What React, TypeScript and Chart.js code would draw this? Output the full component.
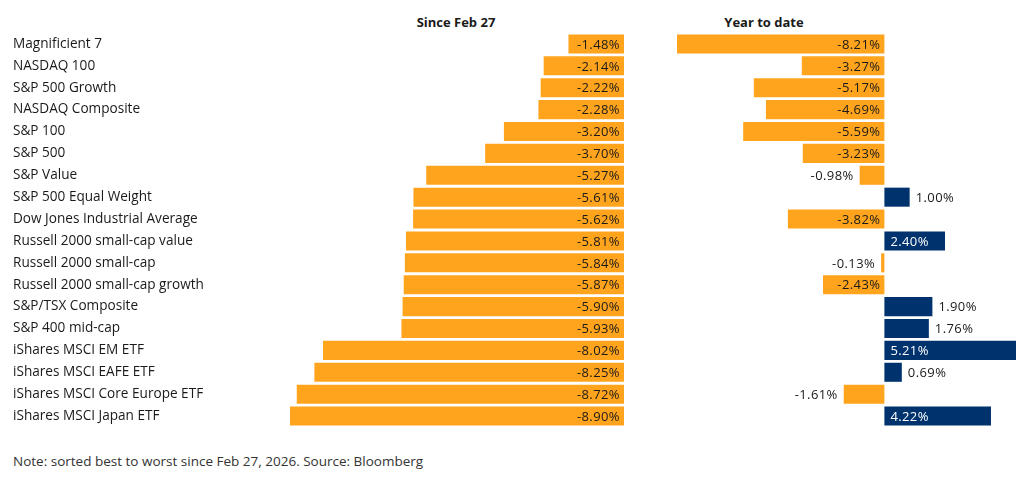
import React, { useEffect, useRef } from "react";
import { Chart, registerables } from "chart.js";

Chart.register(...registerables);

const categories = [
  "Magnificient 7",
  "NASDAQ 100",
  "S&P 500 Growth",
  "NASDAQ Composite",
  "S&P 100",
  "S&P 500",
  "S&P Value",
  "S&P 500 Equal Weight",
  "Dow Jones Industrial Average",
  "Russell 2000 small-cap value",
  "Russell 2000 small-cap",
  "Russell 2000 small-cap growth",
  "S&P/TSX Composite",
  "S&P 400 mid-cap",
  "iShares MSCI EM ETF",
  "iShares MSCI EAFE ETF",
  "iShares MSCI Core Europe ETF",
  "iShares MSCI Japan ETF",
];

const sinceFeb27 = [
  -1.48, -2.14, -2.22, -2.28, -3.2, -3.7, -5.27, -5.61, -5.62, -5.81, -5.84,
  -5.87, -5.9, -5.93, -8.02, -8.25, -8.72, -8.9,
];

const yearToDate = [
  -8.21, -3.27, -5.17, -4.69, -5.59, -3.23, -0.98, 1.0, -3.82, 2.4, -0.13,
  -2.43, 1.9, 1.76, 5.21, 0.69, -1.61, 4.22,
];

const panelTitles = ["Since Feb 27", "Year to date"];
const footnote = "Note: sorted best to worst since Feb 27, 2026. Source: Bloomberg";

const ORANGE = "#FFA41C";
const NAVY = "#00336E";
const DARK = "#1a1a1a";
const FONT = '"Open Sans", "Noto Sans", sans-serif';

function labelPlugin(values: number[], allInside: boolean) {
  return {
    id: "barLabels",
    afterDatasetsDraw(chart: any) {
      const ctx = chart.ctx as CanvasRenderingContext2D;
      const meta = chart.getDatasetMeta(0);
      ctx.save();
      ctx.font = `500 13px ${FONT}`;
      (ctx as any).letterSpacing = "0.4px";
      ctx.textBaseline = "middle";
      meta.data.forEach((bar: any, i: number) => {
        const v = values[i];
        const { x, y, base } = bar.getProps(["x", "y", "base"], true);
        const w = Math.abs(x - base);
        const text = v.toFixed(2) + "%";
        if (v < 0) {
          ctx.textAlign = "right";
          ctx.fillStyle = DARK;
          if (allInside || w > 55) ctx.fillText(text, base - 4, y + 1);
          else ctx.fillText(text, x - 6, y + 1);
        } else {
          ctx.textAlign = "left";
          if (w > 55) {
            ctx.fillStyle = "#ffffff";
            ctx.fillText(text, base + 6, y + 1);
          } else {
            ctx.fillStyle = DARK;
            ctx.fillText(text, x + 6, y + 1);
          }
        }
      });
      ctx.restore();
    },
  };
}

export default function App() {
  const leftRef = useRef<HTMLCanvasElement>(null);
  const rightRef = useRef<HTMLCanvasElement>(null);

  useEffect(() => {
    document.body.style.margin = "0";
    const common: any = {
      indexAxis: "y",
      animation: false,
      responsive: true,
      maintainAspectRatio: false,
      plugins: { legend: { display: false }, tooltip: { enabled: false }, title: { display: false } },
      events: [],
    };

    const left = new Chart(leftRef.current!, {
      type: "bar",
      data: {
        labels: categories,
        datasets: [
          {
            data: sinceFeb27,
            backgroundColor: ORANGE,
            categoryPercentage: 1,
            barPercentage: 0.87,
          },
        ],
      },
      options: {
        ...common,
        layout: { padding: { left: 13, right: 16, top: 33, bottom: 13 } },
        scales: {
          x: {
            display: false,
            min: Math.min(...sinceFeb27),
            max: 0,
          },
          y: {
            grid: { display: false },
            border: { display: false },
            ticks: {
              crossAlign: "far",
              color: DARK,
              padding: 0,
              font: { family: FONT, size: 13.6 },
            },
            afterFit: (scale: any) => {
              scale.width = 277;
            },
          },
        },
      },
      plugins: [labelPlugin(sinceFeb27, true)],
    });

    const right = new Chart(rightRef.current!, {
      type: "bar",
      data: {
        labels: categories,
        datasets: [
          {
            data: yearToDate,
            backgroundColor: yearToDate.map((v) => (v < 0 ? ORANGE : NAVY)),
            categoryPercentage: 1,
            barPercentage: 0.87,
          },
        ],
      },
      options: {
        ...common,
        layout: { padding: { left: 17, right: 8, top: 33, bottom: 13 } },
        scales: {
          x: {
            display: false,
            min: Math.min(...yearToDate),
            max: Math.max(...yearToDate),
          },
          y: { display: false },
        },
      },
      plugins: [labelPlugin(yearToDate, false)],
    });

    return () => {
      left.destroy();
      right.destroy();
    };
  }, []);

  const titleStyle: React.CSSProperties = {
    position: "absolute",
    top: 12,
    fontFamily: FONT,
    fontWeight: 700,
    fontSize: 13,
    color: DARK,
    textAlign: "center",
    width: 200,
    lineHeight: "20px",
  };

  return (
    <div style={{ position: "absolute", left: 0, top: 0, width: 1024, height: 478, background: "#fff" }}>
      <div style={{ ...titleStyle, left: 456 - 100 }}>{panelTitles[0]}</div>
      <div style={{ ...titleStyle, left: 764 - 100 }}>{panelTitles[1]}</div>
      <div style={{ position: "absolute", left: 0, top: 0, width: 640, height: 440 }}>
        <canvas ref={leftRef} />
      </div>
      <div style={{ position: "absolute", left: 660, top: 0, width: 364, height: 440 }}>
        <canvas ref={rightRef} />
      </div>
      <div
        style={{
          position: "absolute",
          left: 13,
          top: 451,
          fontFamily: FONT,
          fontSize: 13.5,
          color: "#333",
          lineHeight: "20px",
          whiteSpace: "nowrap",
        }}
      >
        {footnote}
      </div>
    </div>
  );
}
